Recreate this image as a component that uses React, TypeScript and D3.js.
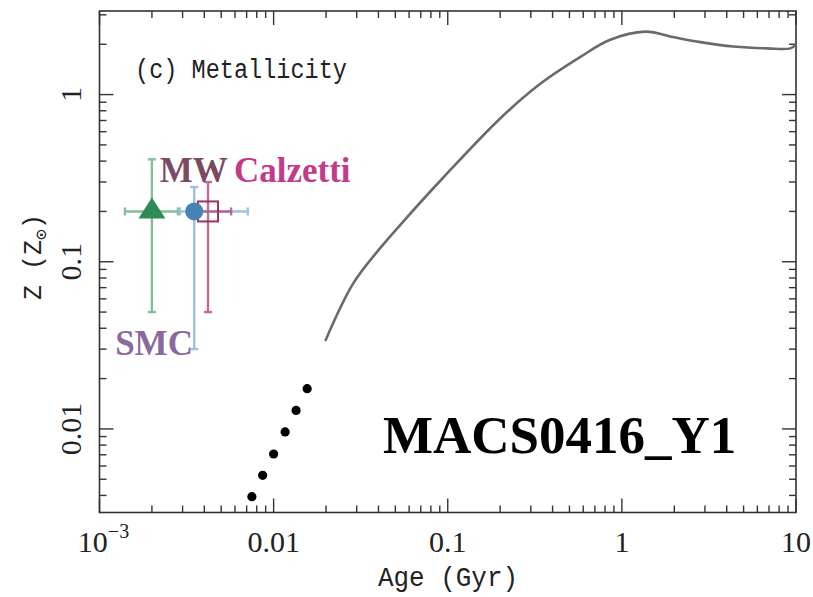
import * as d3 from "d3"

// model track: age (Gyr) vs metallicity (Zsun)
const trackAge = [0.0198, 0.0286, 0.041, 0.0555, 0.094, 0.2, 0.34, 0.578, 0.85, 1.36, 2.0, 2.83, 4.37, 6.86, 9.3, 10]
const trackZ = [0.0336, 0.074, 0.121, 0.174, 0.318, 0.72, 1.16, 1.68, 2.12, 2.38, 2.2, 2.06, 1.94, 1.89, 1.89, 2.0]

// black dots at young ages
const dotAge = [0.0075, 0.00865, 0.01, 0.01164, 0.01346, 0.01558]
const dotZ = [0.00393, 0.00528, 0.00708, 0.0096, 0.0129, 0.0174]

// best-fit points with error bars (triangle, circle, square)
const fitShape = ["triangle", "circle", "square"]
const fitAge = [0.002, 0.0035, 0.0042]
const fitAgeLo = [0.0014, 0.0029, 0.0033]
const fitAgeHi = [0.00282, 0.0071, 0.0057]
const fitZ = [0.2, 0.2, 0.2]
const fitZLo = [0.05, 0.03, 0.05]
const fitZHi = [0.41, 0.28, 0.3]
const fitColor = ["#2e8b57", "#4682b4", "#a0306c"]
const barColor = ["#78b793", "#93bbdc", "#b2608f"]

// dust-law labels
const lawNames = ["MW", "Calzetti", "SMC"]
const lawColor = ["#7b4a62", "#c23b8a", "#8a6a9c"]
const lawAge = [0.00222, 0.00592, 0.00123]
const lawZ = [0.3, 0.3, 0.0277]

const xTickLabels = ["10", "0.01", "0.1", "1", "10"]
const yTickLabels = ["0.01", "0.1", "1"]

const W = 813
const H = 597
const left = 99.5
const right = 796
const top = 11
const bottom = 512.5

export default function App() {
  const x = d3.scaleLog().domain([1e-3, 10]).range([left, right])
  const y = d3.scaleLog().domain([Math.pow(10, -2.5), Math.pow(10, 0.5)]).range([bottom, top])

  const xTicks = x.ticks()
  const yTicks = y.ticks()
  const isMajor = (v: number) => Math.abs(Math.log10(v) - Math.round(Math.log10(v))) < 1e-6
  const xMajors = xTicks.filter(isMajor)
  const yMajors = yTicks.filter(isMajor)

  const line = d3
    .line<number>()
    .x((_, i) => x(trackAge[i]))
    .y((d) => y(d))
    .curve(d3.curveCatmullRom.alpha(0.5))

  const axisColor = "#333"
  const numFont = "'Liberation Serif', serif"
  const txtFont = "'Liberation Mono', monospace"

  return (
    <svg width={W} height={H} style={{ position: "absolute", left: 0, top: 0, background: "#fff" }}>
      {/* frame */}
      <rect x={left} y={top} width={right - left} height={bottom - top} fill="none" stroke={axisColor} strokeWidth={1.6} />

      {/* x ticks bottom and top */}
      {xTicks.map((t, i) => {
        const len = isMajor(t) ? 14 : 7
        return (
          <g key={"xt" + i} stroke={axisColor} strokeWidth={1.4}>
            <line x1={x(t)} x2={x(t)} y1={bottom} y2={bottom - len} />
            <line x1={x(t)} x2={x(t)} y1={top} y2={top + len} />
          </g>
        )
      })}
      {/* y ticks left and right */}
      {yTicks.map((t, i) => {
        const len = isMajor(t) ? 14 : 7
        return (
          <g key={"yt" + i} stroke={axisColor} strokeWidth={1.4}>
            <line x1={left} x2={left + len} y1={y(t)} y2={y(t)} />
            <line x1={right} x2={right - len} y1={y(t)} y2={y(t)} />
          </g>
        )
      })}

      {/* x tick labels */}
      {xMajors.map((t, i) =>
        i === 0 ? (
          <text key={"xl" + i} x={x(t) + 4} y={552} textAnchor="middle" fontFamily={numFont} fontSize={30} fill="#222">
            {xTickLabels[i]}
            <tspan fontSize={20} dy={-14}>−3</tspan>
          </text>
        ) : (
          <text key={"xl" + i} x={x(t)} y={552} textAnchor="middle" fontFamily={numFont} fontSize={30} fill="#222">
            {xTickLabels[i]}
          </text>
        )
      )}
      {/* y tick labels */}
      {yMajors.map((t, i) => (
        <text
          key={"yl" + i}
          transform={`translate(81,${y(t)}) rotate(-90)`}
          textAnchor="middle"
          fontFamily={numFont}
          fontSize={30}
          fill="#222"
        >
          {yTickLabels[i]}
        </text>
      ))}

      {/* axis titles */}
      <text x={448} y={586} textAnchor="middle" fontFamily={txtFont} fontSize={27} fill="#222" textLength={140} lengthAdjust="spacingAndGlyphs">
        Age (Gyr)
      </text>
      <text transform="translate(41,257) rotate(-90)" textAnchor="middle" fontFamily={txtFont} fontSize={25} fill="#222">
        Z (Z<tspan fontSize={18} dy={6}>⊙</tspan>
        <tspan dy={-6}>)</tspan>
      </text>
      <text x={135} y={78} fontFamily={txtFont} fontSize={27} fill="#222" textLength={212} lengthAdjust="spacingAndGlyphs">
        (c) Metallicity
      </text>

      {/* model track */}
      <path d={line(trackZ) ?? ""} fill="none" stroke="#6a6a6a" strokeWidth={2.6} strokeLinejoin="round" />

      {/* dots */}
      {dotAge.map((a, i) => (
        <circle key={"d" + i} cx={x(a)} cy={y(dotZ[i])} r={4.6} fill="#000" />
      ))}

      {/* error bars */}
      {fitAge.map((a, i) => {
        const cx = x(a)
        const cy = y(fitZ[i])
        return (
          <g key={"eb" + i} stroke={barColor[i]} strokeWidth={2.4} opacity={0.9}>
            <line x1={x(fitAgeLo[i])} x2={x(fitAgeHi[i])} y1={cy} y2={cy} />
            <line x1={x(fitAgeLo[i])} x2={x(fitAgeLo[i])} y1={cy - 4} y2={cy + 4} />
            <line x1={x(fitAgeHi[i])} x2={x(fitAgeHi[i])} y1={cy - 4} y2={cy + 4} />
            <line x1={cx} x2={cx} y1={y(fitZLo[i])} y2={y(fitZHi[i])} />
            <line x1={cx - 4} x2={cx + 4} y1={y(fitZLo[i])} y2={y(fitZLo[i])} />
            <line x1={cx - 4} x2={cx + 4} y1={y(fitZHi[i])} y2={y(fitZHi[i])} />
          </g>
        )
      })}

      {/* markers: square first, then triangle and circle on top */}
      {[2, 0, 1].map((i) => {
        const cx = x(fitAge[i])
        const cy = y(fitZ[i])
        if (fitShape[i] === "triangle")
          return <path key={"m" + i} d={`M${cx},${cy - 14}L${cx + 13.5},${cy + 7}L${cx - 13.5},${cy + 7}Z`} fill={fitColor[i]} />
        if (fitShape[i] === "circle") return <circle key={"m" + i} cx={cx} cy={cy} r={9} fill={fitColor[i]} />
        return (
          <rect key={"m" + i} x={cx - 10} y={cy - 10} width={20} height={20} fill="none" stroke={fitColor[i]} strokeWidth={2} />
        )
      })}

      {/* dust-law labels */}
      {lawNames.map((n, i) => (
        <text
          key={"ln" + i}
          x={x(lawAge[i])}
          y={y(lawZ[i])}
          fontFamily="'Liberation Serif', serif"
          fontWeight="bold"
          fontSize={35}
          fill={lawColor[i]}
        >
          {n}
        </text>
      ))}

      <text x={383} y={453} fontFamily="'Liberation Serif', serif" fontWeight="bold" fontSize={53} fill="#000">
        MACS0416_Y1
      </text>
    </svg>
  )
}
